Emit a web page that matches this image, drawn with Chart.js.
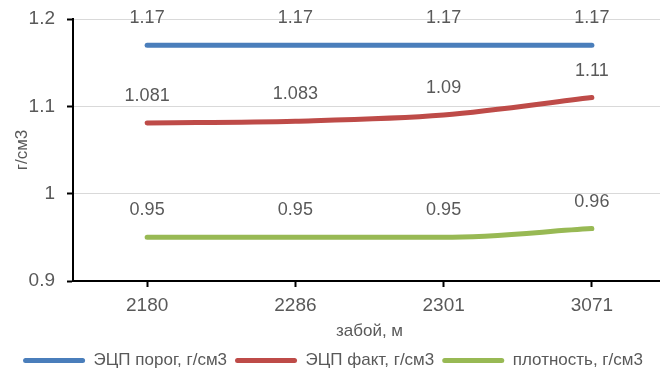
<!DOCTYPE html>
<html>
<head>
<meta charset="utf-8">
<script src="https://cdn.jsdelivr.net/npm/chart.js@4"></script>
<style>
  html, body { margin: 0; padding: 0; background: #fff; overflow: hidden; }
  #wrap { width: 666px; height: 375px; position: relative; }
</style>
</head>
<body>
<div id="wrap"><canvas id="c"></canvas></div>
<script>
// Depth points along the well (м)
const depths = ['2180', '2286', '2301', '3071'];
// ECD threshold, actual ECD and mud density, г/см3
const ecdLimit = [1.17, 1.17, 1.17, 1.17];
const ecdActual = [1.081, 1.083, 1.09, 1.11];
const mudDensity = [0.95, 0.95, 0.95, 0.96];
const yTicks = [0.9, 1, 1.1, 1.2];

const seriesNames = ['ЭЦП порог, г/см3', 'ЭЦП факт, г/см3', 'плотность, г/см3'];
const seriesColors = ['#4a7ebb', '#be4b48', '#98b954'];

const FONT = '"Liberation Sans", Arial, sans-serif';
const TEXT = '#595959';

// Value labels above each point
const pointLabels = {
  id: 'pointLabels',
  afterDatasetsDraw(chart) {
    const ctx = chart.ctx;
    ctx.save();
    ctx.font = '18px ' + FONT;
    ctx.fillStyle = TEXT;
    ctx.textAlign = 'center';
    ctx.textBaseline = 'middle';
    chart.data.datasets.forEach((ds, i) => {
      const meta = chart.getDatasetMeta(i);
      meta.data.forEach((pt, j) => {
        ctx.fillText(String(ds.data[j]), pt.x, pt.y - 27);
      });
    });
    ctx.restore();
  }
};

const datasets = [ecdLimit, ecdActual, mudDensity].map((vals, i) => ({
  label: seriesNames[i],
  data: vals,
  borderColor: seriesColors[i],
  backgroundColor: seriesColors[i],
  borderWidth: 5,
  pointRadius: 0,
  cubicInterpolationMode: 'monotone',
  borderCapStyle: 'round'
}));

new Chart(document.getElementById('c'), {
  type: 'line',
  data: { labels: depths, datasets },
  options: {
    responsive: true,
    maintainAspectRatio: false,
    animation: false,
    layout: { padding: { top: 19, left: 0, right: 0, bottom: -4 } },
    plugins: {
      tooltip: { enabled: false },
      legend: {
        position: 'bottom',
        labels: {
          font: { family: FONT, size: 17 },
          color: TEXT,
          boxWidth: 62,
          boxHeight: 5,
          padding: 8,
          generateLabels(chart) {
            return chart.data.datasets.map((ds, i) => ({
              text: ds.label,
              fillStyle: ds.borderColor,
              strokeStyle: ds.borderColor,
              lineWidth: 0,
              borderRadius: 2.5,
              fontColor: TEXT,
              datasetIndex: i
            }));
          }
        }
      }
    },
    scales: {
      x: {
        offset: true,
        afterFit(scale) { scale.height = 63; },
        grid: { offset: false, drawOnChartArea: false, drawTicks: true, tickLength: 6, tickColor: '#000', tickWidth: 2 },
        border: { display: true, color: '#000', width: 2 },
        ticks: { font: { family: FONT, size: 19 }, color: TEXT, padding: 7, maxRotation: 0 },
        title: { display: true, text: 'забой, м', font: { family: FONT, size: 17 }, color: TEXT, padding: { top: 0, bottom: 2 } }
      },
      y: {
        min: 0.9,
        max: 1.2,
        afterBuildTicks(scale) { scale.ticks = yTicks.map(v => ({ value: v })); },
        afterFit(scale) { scale.width = 73; scale.paddingTop = 0; scale.paddingBottom = 0; },
        grid: { color: '#d9d9d9', lineWidth: 1, tickLength: 6, tickColor: '#000', tickWidth: 2 },
        border: { display: true, color: '#000', width: 2 },
        ticks: {
          font: { family: FONT, size: 19 },
          color: TEXT,
          padding: 12,
          callback: v => String(v)
        },
        title: { display: true, text: 'г/см3', font: { family: FONT, size: 17 }, color: TEXT, padding: { top: 12, bottom: 0 } }
      }
    }
  },
  plugins: [pointLabels]
});
</script>
</body>
</html>
